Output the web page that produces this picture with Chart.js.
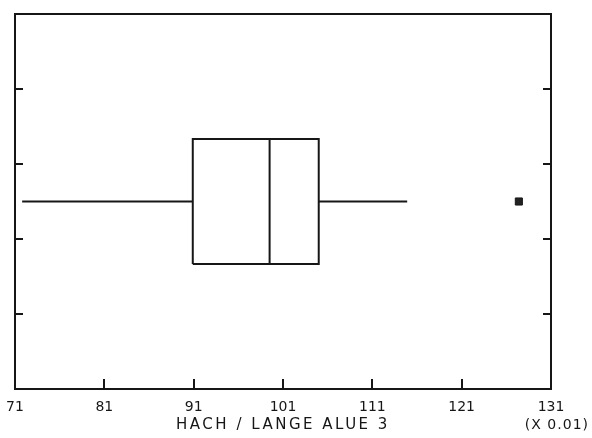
<!DOCTYPE html>
<html>
<head>
<meta charset="utf-8">
<script src="https://cdn.jsdelivr.net/npm/chart.js@4.4.1/dist/chart.umd.min.js"></script>
<style>
  html, body { margin: 0; padding: 0; background: #fff; }
  #wrap { width: 592px; height: 438px; position: relative; }
</style>
</head>
<body>
<div id="wrap"><canvas id="box"></canvas></div>
<script>
// x axis tick labels (values are in units of 0.01)
const xTickValues = [71, 81, 91, 101, 111, 121, 131];
// low whisker, Q1, median, Q3, high whisker
const boxValues = [71.8, 90.9, 99.5, 105.0, 114.9];
const outlierValues = [127.4];

const xTitle = "HACH / LANGE ALUE 3";
const xScaleNote = "(X 0.01)";

// the vertical axis is only a frame: 0..5, box occupies the middle third
const yMin = 0, yMax = 5;
const yMid = 2.5;
const boxLow = 5 / 3, boxHigh = 10 / 3;

const ink = "#161616";
const [wLo, q1, med, q3, wHi] = boxValues;

function seg(points) {
  return {
    type: "scatter",
    data: points,
    showLine: true,
    borderColor: ink,
    borderWidth: 2,
    borderJoinStyle: "miter",
    pointRadius: 0,
    tension: 0,
  };
}

const datasets = [
  seg([
    { x: q1, y: boxLow }, { x: q3, y: boxLow },
    { x: q3, y: boxHigh }, { x: q1, y: boxHigh }, { x: q1, y: boxLow },
  ]),
  seg([{ x: med, y: boxLow }, { x: med, y: boxHigh }]),
  seg([{ x: wLo, y: yMid }, { x: q1, y: yMid }]),
  seg([{ x: q3, y: yMid }, { x: wHi, y: yMid }]),
  {
    type: "scatter",
    data: outlierValues.map(v => ({ x: v, y: yMid })),
    pointStyle: "rect",
    pointRadius: 5,
    backgroundColor: "#222",
    borderColor: ink,
    borderWidth: 1,
  },
];

// axis title and scale note under the x axis
const axisText = {
  id: "axisText",
  afterDraw(chart) {
    const { ctx, chartArea, scales } = chart;
    ctx.save();
    ctx.fillStyle = ink;
    ctx.textBaseline = "middle";
    ctx.font = "15px 'DejaVu Sans'";
    ctx.letterSpacing = "2.5px";
    ctx.textAlign = "center";
    const cx = (scales.x.left + scales.x.right) / 2;
    ctx.fillText(xTitle, cx, chartArea.bottom + 36);
    ctx.font = "14px 'DejaVu Sans'";
    ctx.letterSpacing = "1px";
    ctx.textAlign = "right";
    ctx.fillText(xScaleNote, chart.width - 3, chartArea.bottom + 36);
    ctx.restore();
  },
};

const frameScale = {
  grid: { drawOnChartArea: false, color: ink, lineWidth: 2 },
  border: { display: true, color: ink, width: 2 },
};

new Chart(document.getElementById("box"), {
  data: { datasets },
  plugins: [axisText],
  options: {
    responsive: true,
    maintainAspectRatio: false,
    animation: false,
    layout: { padding: 0 },
    plugins: { legend: { display: false }, tooltip: { enabled: false } },
    scales: {
      x: {
        type: "linear",
        position: "bottom",
        min: xTickValues[0],
        max: xTickValues[xTickValues.length - 1],
        afterBuildTicks: s => { s.ticks = xTickValues.map(v => ({ value: v })); },
        afterFit: s => { s.height = 49; s.paddingLeft = 0; s.paddingRight = 0; },
        grid: { ...frameScale.grid, tickLength: -10 },
        border: frameScale.border,
        ticks: {
          color: ink,
          padding: 20,
          maxRotation: 0,
          font: { family: "'DejaVu Sans'", size: 14 },
        },
      },
      xTop: {
        type: "linear",
        position: "top",
        min: xTickValues[0],
        max: xTickValues[xTickValues.length - 1],
        afterFit: s => { s.height = 14; s.paddingLeft = 0; s.paddingRight = 0; },
        grid: { display: false },
        border: frameScale.border,
        ticks: { display: false },
      },
      y: {
        type: "linear",
        position: "left",
        min: yMin,
        max: yMax,
        afterFit: s => { s.width = 15; },
        grid: { ...frameScale.grid, tickLength: -8 },
        border: frameScale.border,
        ticks: { display: false, stepSize: 1 },
      },
      yRight: {
        type: "linear",
        position: "right",
        min: yMin,
        max: yMax,
        afterFit: s => { s.width = 41; },
        grid: { ...frameScale.grid, tickLength: -8 },
        border: frameScale.border,
        ticks: { display: false, stepSize: 1 },
      },
    },
  },
});
</script>
</body>
</html>
